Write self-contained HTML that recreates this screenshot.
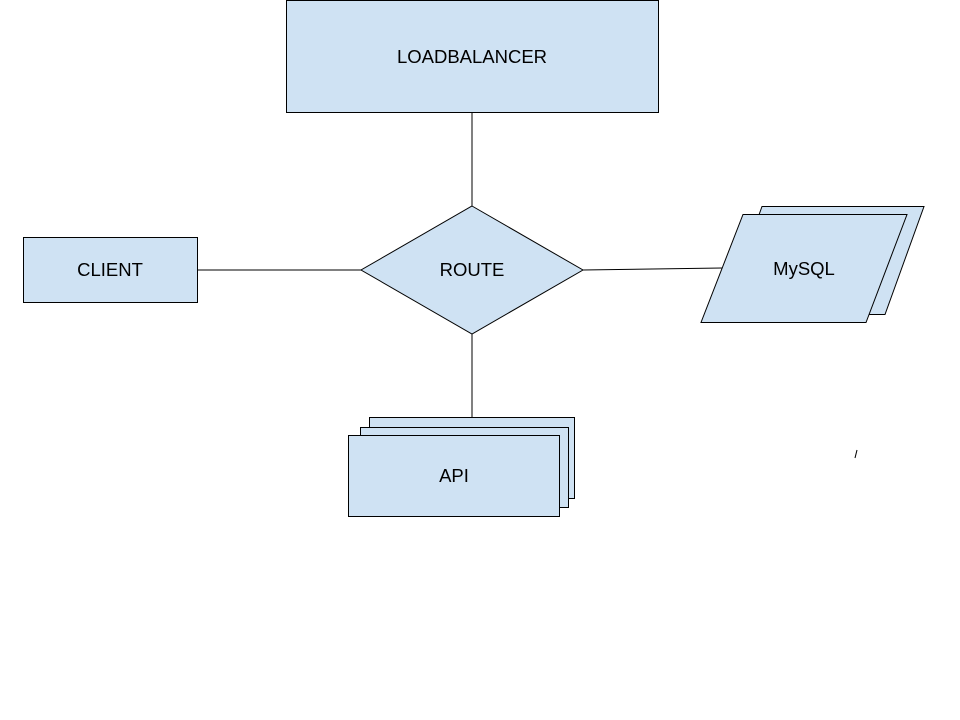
<!DOCTYPE html>
<html><head><style>body{margin:0;background:#fff}svg{display:block}</style></head><body>
<svg width="960" height="720" xmlns="http://www.w3.org/2000/svg" font-family="Liberation Sans, sans-serif" font-size="18.5" fill="#000">
<g stroke="#000" stroke-width="1">
<line x1="472" y1="112" x2="472" y2="206"/>
<line x1="197" y1="270" x2="361" y2="270"/>
<line x1="583" y1="270" x2="722" y2="268"/>
<line x1="472" y1="334" x2="472" y2="417"/>
</g>
<g fill="#cfe2f3" stroke="#000" stroke-width="1">
<rect x="286.5" y="0.5" width="372" height="112"/>
<rect x="23.5" y="237.5" width="174" height="65"/>
<polygon points="472,206 583,270 472,334 361,270"/>
<polygon points="762,206.5 924,206.5 885,314.5 723,314.5"/>
<polygon points="743,214.5 907,214.5 866,322.5 701,322.5"/>
<rect x="369.5" y="417.5" width="205" height="81"/>
<rect x="360.5" y="427.5" width="208" height="80"/>
<rect x="348.5" y="435.5" width="211" height="81"/>
</g>
<text x="472" y="63" text-anchor="middle">LOADBALANCER</text>
<text x="110" y="276" text-anchor="middle">CLIENT</text>
<text x="472" y="276" text-anchor="middle">ROUTE</text>
<text x="804" y="275" text-anchor="middle">MySQL</text>
<text x="454" y="482" text-anchor="middle">API</text>
<line x1="855" y1="458" x2="857" y2="450" stroke="#000" stroke-width="1"/>
</svg>
</body></html>
